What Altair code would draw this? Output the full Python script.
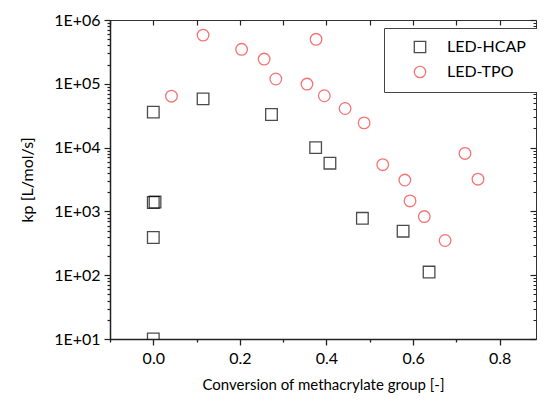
import altair as alt
import pandas as pd

# LED-HCAP (squares)
hcap_x = [0.0, 0.004, 0.0, 0.0, 0.0, 0.115, 0.273, 0.375, 0.408, 0.483, 0.577, 0.637]
hcap_kp = [3.6e4, 1.4e3, 1.38e3, 390, 10, 5.8e4, 3.3e4, 1.0e4, 5.7e3, 780, 490, 112]

# LED-TPO (circles)
tpo_x = [0.042, 0.115, 0.204, 0.256, 0.283, 0.355, 0.376, 0.395, 0.443, 0.487,
         0.53, 0.581, 0.593, 0.626, 0.674, 0.72, 0.75]
tpo_kp = [6.4e4, 5.8e5, 3.47e5, 2.44e5, 1.19e5, 9.9e4, 4.98e5, 6.5e4, 4.1e4, 2.44e4,
          5.4e3, 3.1e3, 1.46e3, 830, 350, 8.1e3, 3.2e3]

series_names = ["LED-HCAP", "LED-TPO"]
series_colors = ["#000000", "#f03c3c"]
series_shapes = ["square", "circle"]

X_MIN, X_MAX = -0.1, 0.884
x_ticks = [round(-0.1 + 0.1 * i, 1) for i in range(10)]
y_decades = [10, 100, 1000, 10000, 100000, 1000000]
y_minor = [d * k for d in y_decades[:-1] for k in range(2, 10)]
y_ticks = sorted(y_decades + y_minor)

df = pd.DataFrame({
    "x": hcap_x + tpo_x,
    "kp": hcap_kp + tpo_kp,
    "series": [series_names[0]] * len(hcap_x) + [series_names[1]] * len(tpo_x),
})

FONT = "Lato"
xscale = alt.Scale(domain=[X_MIN, X_MAX], nice=False, zero=False)
yscale = alt.Scale(type="log", domain=[10, 1e6], nice=False)

is_decade = "abs(log(datum.value)/LN10 - round(log(datum.value)/LN10)) < 0.001"
is_even = "abs(round(datum.value*10)) % 2 == 0"

legend = alt.Legend(
    title=None, orient="none", legendX=274, legendY=8,
    strokeColor="#444444", fillColor="white", padding=11,
    symbolOffset=17, labelOffset=19, rowPadding=7,
    labelFont=FONT, labelFontSize=16, labelColor="black",
    symbolSize=130, symbolStrokeWidth=1.3, cornerRadius=0,
)

main = alt.Chart(df).mark_point(filled=False, strokeWidth=1.3, size=135, clip=True).encode(
    x=alt.X("x:Q", scale=xscale, axis=alt.Axis(
        orient="bottom", values=x_ticks, title="Conversion of methacrylate group [-]",
        labelExpr=f"{is_even} ? format(datum.value, '.1f') : ''",
        tickSize={"condition": {"test": is_even, "value": 6}, "value": 3},
        labelPadding=5, titlePadding=11, titleFontSize=15, labelFlush=False, labelOverlap=False,
        domainWidth=1.5, tickWidth=1.3, grid=False)),
    y=alt.Y("kp:Q", scale=yscale, axis=alt.Axis(
        orient="left", values=y_ticks, title="kp [L/mol/s]",
        labelExpr=f"{is_decade} ? '1E+0' + round(log(datum.value)/LN10) : ''",
        tickSize={"condition": {"test": is_decade, "value": 6}, "value": 3},
        labelPadding=4, titlePadding=18, labelFlush=False, labelOverlap=False,
        domainWidth=1.5, tickWidth=1.2, grid=False)),
    color=alt.Color("series:N", scale=alt.Scale(domain=series_names, range=series_colors), legend=legend),
    shape=alt.Shape("series:N", scale=alt.Scale(domain=series_names, range=series_shapes), legend=legend),
)

frame1 = alt.Chart(df).mark_point(opacity=0).encode(
    x=alt.X("x:Q", scale=xscale, axis=alt.Axis(
        orient="top", values=x_ticks, labels=False, domain=False, title=None,
        tickSize=5, offset=-5, tickWidth=1.2, grid=False)),
    y=alt.Y("kp:Q", scale=yscale, axis=alt.Axis(
        orient="right", values=y_decades, labels=False, domain=False, title=None,
        tickSize=6, offset=-6, tickWidth=1.2, grid=False)),
)

frame2 = alt.Chart(df).mark_point(opacity=0).encode(
    x=alt.X("x:Q", scale=xscale, axis=None),
    y=alt.Y("kp:Q", scale=yscale, axis=alt.Axis(
        orient="right", values=y_minor, labels=False, domain=False, title=None,
        tickSize=3, offset=-3, tickWidth=1.0, grid=False)),
)

chart = alt.layer(main, frame1, frame2).resolve_axis(
    x="independent", y="independent"
).properties(
    width=426, height=319,
    padding={"left": 102, "top": 12, "right": 1, "bottom": 55},
    autosize=alt.AutoSizeParams(type="none"),
).configure_view(
    stroke="#333333", strokeWidth=1
).configure_axis(
    labelFont=FONT, titleFont=FONT, labelFontSize=16, titleFontSize=16,
    titleFontWeight="normal", labelColor="black", titleColor="black",
    domainColor="#222222", tickColor="#222222",
)

chart.save("out.html", embed_options={"renderer": "svg", "actions": False})
